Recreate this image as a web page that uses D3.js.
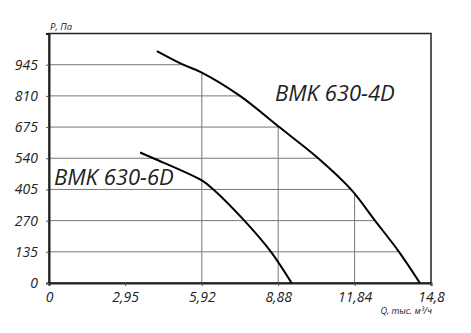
<!DOCTYPE html>
<html>
<head>
<meta charset="utf-8">
<script src="https://cdn.jsdelivr.net/npm/d3@7"></script>
<style>
  body { margin: 0; background: #fff; }
  text { font-family: "Open Sans", sans-serif; font-style: italic; fill: #222; }
</style>
</head>
<body>
<div id="display"></div>
<script>
// curve data (Q in thousand m3/h, P in Pa)
var q4D = [4.18, 5.20, 5.92, 7.40, 8.92, 10.43, 11.70, 12.63, 13.56, 14.37];
var p4D = [1004, 945, 911, 810, 675, 540, 405, 270, 135, 0];
var q6D = [3.53, 4.04, 5.92, 6.37, 7.57, 8.60, 9.40];
var p6D = [565, 540, 444, 405, 270, 135, 0];

var xTicks = [0, 2.95, 5.92, 8.88, 11.84, 14.8];
var xGrid = [5.92, 8.88, 11.84];
var yTicks = [0, 135, 270, 405, 540, 675, 810, 945];
var yMax = 1080;

var margin = {top: 33.5, right: 40, bottom: 50, left: 49},
    width = 471 - margin.left - margin.right,
    height = 333 - margin.top - margin.bottom;

var svg = d3.select("#display").append("svg")
    .attr("width", 471)
    .attr("height", 333);
var g = svg.append("g")
    .attr("transform", "translate(" + margin.left + "," + margin.top + ")");

var x = d3.scaleLinear().domain([0, 14.8]).range([0, width]);
var y = d3.scaleLinear().domain([0, yMax]).range([height, 0]);

var line = d3.line()
    .x(function(d){ return x(d[0]) })
    .y(function(d){ return y(d[1]) })
    .curve(d3.curveCatmullRom.alpha(0.5));

var d4 = d3.zip(q4D, p4D);
var d6 = d3.zip(q6D, p6D);

// grid only lives under the 4D curve
var path4 = line(d4);
var clipD = "M0," + y(yMax) + "L" + x(q4D[0]) + "," + y(yMax) + "L" + path4.slice(1) +
    "L" + x(q4D[q4D.length-1]) + "," + y(0) + "L0," + y(0) + "Z";
g.append("clipPath").attr("id", "under")
  .append("path").attr("d", clipD);

var grid = g.append("g").attr("clip-path", "url(#under)");
grid.selectAll("line.h")
  .data(yTicks.slice(1))
  .enter().append("line")
    .attr("x1", 0).attr("x2", width)
    .attr("y1", function(d){ return y(d) }).attr("y2", function(d){ return y(d) })
    .attr("stroke", "#777").attr("stroke-width", 1);
grid.selectAll("line.v")
  .data(xGrid)
  .enter().append("line")
    .attr("y1", 0).attr("y2", height)
    .attr("x1", function(d){ return x(d) }).attr("x2", function(d){ return x(d) })
    .attr("stroke", "#777").attr("stroke-width", 1);

// frame
g.append("rect")
  .attr("width", width).attr("height", height)
  .attr("fill", "none").attr("stroke", "#222").attr("stroke-width", 1.5);

// axes
var xAxis = g.append("g")
  .attr("transform", "translate(0," + height + ")")
  .call(d3.axisBottom(x).tickValues(xTicks).tickSize(3).tickPadding(6)
    .tickFormat(function(d){ return String(d).replace(".", ",") }));
var yAxis = g.append("g")
  .call(d3.axisLeft(y).tickValues(yTicks).tickSize(3).tickPadding(8));

[xAxis, yAxis].forEach(function(a){
  a.attr("font-size", 14).attr("font-family", "'Open Sans', sans-serif");
  a.select(".domain").attr("stroke", "#222").attr("stroke-width", 2);
  a.selectAll(".tick line").attr("stroke", "#555");
  a.selectAll("text").attr("fill", "#222").attr("font-style", "italic");
});

// curves
g.append("path").attr("d", path4)
  .attr("fill", "none").attr("stroke", "#000").attr("stroke-width", 2);
g.append("path").attr("d", line(d6))
  .attr("fill", "none").attr("stroke", "#000").attr("stroke-width", 2);

// labels
svg.append("text").attr("x", 275).attr("y", 101).attr("font-size", 22).text("BMK 630-4D");
svg.append("text").attr("x", 54).attr("y", 185).attr("font-size", 22).text("BMK 630-6D");
svg.append("text").attr("x", 50).attr("y", 30).attr("font-size", 9.5).text("P, Па");
svg.append("text").attr("x", 432).attr("y", 314).attr("font-size", 9)
  .attr("text-anchor", "end").text("Q, тыс. м³/ч");
</script>
</body>
</html>
